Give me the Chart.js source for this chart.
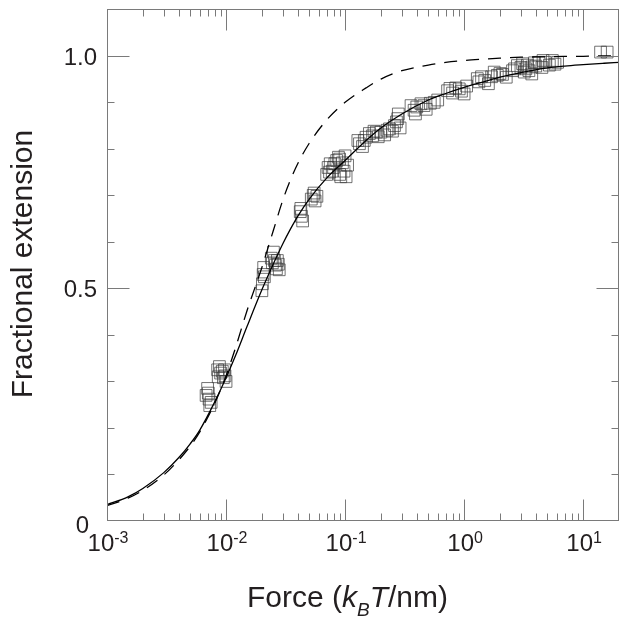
<!DOCTYPE html>
<html>
<head>
<meta charset="utf-8">
<script src="https://cdn.jsdelivr.net/npm/chart.js@4.4.0/dist/chart.umd.min.js"></script>
<style>
  html, body { margin: 0; padding: 0; background: #fff; }
  #wrap { width: 629px; height: 627px; }
</style>
</head>
<body>
<div id="wrap"><canvas id="chart" width="629" height="627"></canvas></div>
<script>
// measured points: force (kBT/nm) vs fractional extension
const obsForce = [
    0.0068, 0.0070, 0.0071, 0.0072, 0.0073, 0.0075, 0.0085, 0.0086, 0.0088, 0.0090, 0.0093, 0.0095, 0.0097, 0.0098, 0.0100,
    0.0200, 0.0202, 0.0205, 0.0207, 0.0210, 0.0240, 0.0245, 0.0250, 0.0255, 0.0260, 0.0265, 0.0270, 0.0275, 0.0280,
    0.042, 0.0425, 0.043, 0.044, 0.052, 0.054, 0.055, 0.056, 0.058,
    0.070, 0.072, 0.074, 0.075, 0.078, 0.080, 0.082, 0.085, 0.088, 0.090, 0.090, 0.092, 0.095, 0.098, 0.100, 0.102, 0.105,
    0.128, 0.132, 0.140, 0.145, 0.150, 0.160, 0.170, 0.175, 0.183, 0.190, 0.200, 0.215, 0.225, 0.236, 0.250, 0.260, 0.270, 0.277, 0.280, 0.290,
    0.358, 0.380, 0.390, 0.400, 0.434, 0.460, 0.480, 0.520, 0.561, 0.600,
    0.726, 0.760, 0.800, 0.850, 0.910, 0.950, 1.000, 1.050,
    1.29, 1.33, 1.40, 1.49, 1.60, 1.70, 1.79, 1.90, 2.00, 2.10, 2.26,
    2.55, 2.65, 2.80, 3.00, 3.10, 3.20, 3.30, 3.40, 3.50, 3.70, 3.70, 3.90, 4.00, 4.26, 4.50, 4.60, 4.80, 5.20, 5.51, 5.80, 6.10,
    14.0, 15.9
];
const obsExt = [
    0.270, 0.285, 0.275, 0.262, 0.248, 0.255, 0.325, 0.310, 0.332, 0.318, 0.322, 0.308, 0.325, 0.312, 0.300,
    0.495, 0.510, 0.530, 0.545, 0.525, 0.565, 0.555, 0.578, 0.560, 0.550, 0.542, 0.560, 0.552, 0.540,
    0.665, 0.672, 0.655, 0.645, 0.692, 0.700, 0.705, 0.688, 0.698,
    0.745, 0.760, 0.750, 0.768, 0.752, 0.760, 0.768, 0.775, 0.782, 0.778, 0.745, 0.740, 0.770, 0.752, 0.785, 0.740, 0.765,
    0.818, 0.811, 0.805, 0.818, 0.825, 0.833, 0.828, 0.838, 0.836, 0.826, 0.836, 0.830, 0.840, 0.843, 0.838, 0.850, 0.858, 0.865, 0.875, 0.845,
    0.893, 0.883, 0.875, 0.890, 0.897, 0.893, 0.885, 0.898, 0.900, 0.905,
    0.925, 0.930, 0.920, 0.931, 0.929, 0.924, 0.918, 0.935,
    0.951, 0.944, 0.955, 0.947, 0.940, 0.955, 0.965, 0.958, 0.962, 0.960, 0.954,
    0.968, 0.972, 0.979, 0.975, 0.983, 0.965, 0.972, 0.980, 0.968, 0.976, 0.961, 0.985, 0.978, 0.986, 0.975, 0.990, 0.986, 0.980, 0.990, 0.982, 0.986,
    1.008, 1.008
];

// model curves on a common force grid
const curveForce = [0.001, 0.0015, 0.002, 0.003, 0.004, 0.005, 0.006, 0.008, 0.01, 0.012, 0.015, 0.02,
    0.025, 0.03, 0.035, 0.04, 0.05, 0.07, 0.1, 0.15, 0.2, 0.3, 0.5, 0.7, 1, 1.5, 2, 3, 5, 7, 10, 15, 20];
const fitExt = [0.035, 0.052, 0.070, 0.104, 0.136, 0.166, 0.195, 0.255, 0.308, 0.355, 0.418, 0.497,
    0.553, 0.596, 0.629, 0.655, 0.692, 0.737, 0.775, 0.818, 0.845, 0.875, 0.905, 0.919, 0.932, 0.945, 0.954,
    0.964, 0.974, 0.978, 0.981, 0.984, 0.986];
const dashExt = [0.033, 0.049, 0.066, 0.099, 0.131, 0.161, 0.191, 0.252, 0.312, 0.372, 0.452, 0.545,
    0.625, 0.690, 0.735, 0.768, 0.812, 0.862, 0.900, 0.931, 0.950, 0.968, 0.980, 0.986, 0.990, 0.993, 0.995,
    0.997, 0.998, 0.999, 0.999, 1.000, 1.000];

// axes
const xMajor = [1e-3, 1e-2, 1e-1, 1, 10];
const xExponents = ['-3', '-2', '-1', '0', '1'];
const yMinor = [0.1, 0.2, 0.3, 0.4, 0.6, 0.7, 0.8, 0.9];
const yMajor = [0.5, 1.0];
const yLabelValues = [0, 0.5, 1.0];
const yLabelText = ['0', '0.5', '1.0'];

const toPoints = (xs, ys) => xs.map((x, i) => ({ x: x, y: ys[i] }));

const TEXT = '#231f20';
const AXIS = '#7a7a7a';
const FONT = '"Liberation Sans", Arial, sans-serif';

const framePlugin = {
    id: 'frame',
    afterDraw(chart) {
        const ctx = chart.ctx;
        const a = chart.chartArea;
        const xs = chart.scales.x, ys = chart.scales.y;
        const L = Math.round(a.left) + 0.5, R = Math.round(a.right) - 0.5;
        const T = Math.round(a.top) + 0.5, B = Math.round(a.bottom) - 0.5;
        ctx.save();
        ctx.strokeStyle = AXIS;
        ctx.lineWidth = 1;
        ctx.strokeRect(L, T, R - L, B - T);

        ctx.beginPath();
        // x ticks, log decades with minor 2..9
        for (let d = -3; d <= 1; d++) {
            for (let k = 1; k <= 9; k++) {
                const v = k * Math.pow(10, d);
                if (v >= 20) break;
                const px = Math.round(xs.getPixelForValue(v)) + 0.5;
                const len = k === 1 ? 21 : 7;
                ctx.moveTo(px, B); ctx.lineTo(px, B - len);
                ctx.moveTo(px, T); ctx.lineTo(px, T + len);
            }
        }
        // y ticks
        yMinor.concat(yMajor).forEach(v => {
            const py = Math.round(ys.getPixelForValue(v)) + 0.5;
            const len = yMajor.includes(v) ? 22 : 7;
            ctx.moveTo(L, py); ctx.lineTo(L + len, py);
            ctx.moveTo(R, py); ctx.lineTo(R - len, py);
        });
        ctx.stroke();

        // tick labels
        ctx.fillStyle = TEXT;
        ctx.textBaseline = 'alphabetic';
        xMajor.forEach((v, i) => {
            const px = xs.getPixelForValue(v);
            ctx.font = '24px ' + FONT;
            const w1 = ctx.measureText('10').width;
            ctx.font = '16px ' + FONT;
            const w2 = ctx.measureText(xExponents[i]).width;
            const x0 = px - (w1 + w2) / 2 + 1;
            ctx.textAlign = 'left';
            ctx.font = '24px ' + FONT;
            ctx.fillText('10', x0, 551);
            ctx.font = '16px ' + FONT;
            ctx.fillText(xExponents[i], x0 + w1, 543);
        });
        ctx.font = '24px ' + FONT;
        ctx.textAlign = 'right';
        yLabelValues.forEach((v, i) => {
            if (v === 0) {
                ctx.fillText(yLabelText[i], 89, 533);
            } else {
                ctx.fillText(yLabelText[i], 97, ys.getPixelForValue(v) + 9);
            }
        });

        // x axis title: Force (kBT/nm)
        let x = 247;
        const base = 607;
        const parts = [
            ['Force (', 'normal', 30, 0],
            ['k', 'italic', 30, 0],
            ['B', 'italic', 19, 9],
            ['T', 'italic', 30, 0],
            ['/nm)', 'normal', 30, 0]
        ];
        ctx.textAlign = 'left';
        parts.forEach(p => {
            ctx.font = p[1] + ' ' + p[2] + 'px ' + FONT;
            ctx.fillText(p[0], x, base + p[3]);
            x += ctx.measureText(p[0]).width;
        });

        // y axis title
        ctx.translate(32, 264);
        ctx.rotate(-Math.PI / 2);
        ctx.textAlign = 'center';
        ctx.font = '30px ' + FONT;
        ctx.fillText('Fractional extension', 0, 0);
        ctx.restore();
    }
};

new Chart(document.getElementById('chart').getContext('2d'), {
    type: 'scatter',
    data: {
        datasets: [{
            type: 'line',
            label: 'fit',
            data: toPoints(curveForce, fitExt),
            borderColor: '#000',
            borderWidth: 1.3,
            pointRadius: 0,
            cubicInterpolationMode: 'monotone',
            fill: false
        }, {
            type: 'line',
            label: 'model',
            data: toPoints(curveForce, dashExt),
            borderColor: '#000',
            borderWidth: 1.3,
            borderDash: [13, 9],
            pointRadius: 0,
            cubicInterpolationMode: 'monotone',
            fill: false
        }, {
            label: 'data',
            data: toPoints(obsForce, obsExt),
            pointStyle: 'rect',
            pointRadius: 8.3,
            pointBorderWidth: 1,
            pointBorderColor: 'rgba(55,55,55,0.7)',
            pointBackgroundColor: 'rgba(0,0,0,0)'
        }]
    },
    options: {
        responsive: false,
        animation: false,
        devicePixelRatio: 1,
        layout: { padding: { left: 107, top: 8, right: 10, bottom: 106 } },
        plugins: { legend: { display: false }, tooltip: { enabled: false } },
        scales: {
            x: { type: 'logarithmic', min: 1e-3, max: 20, display: false },
            y: { type: 'linear', min: 0, max: 1.1, display: false }
        }
    },
    plugins: [framePlugin]
});
</script>
</body>
</html>
